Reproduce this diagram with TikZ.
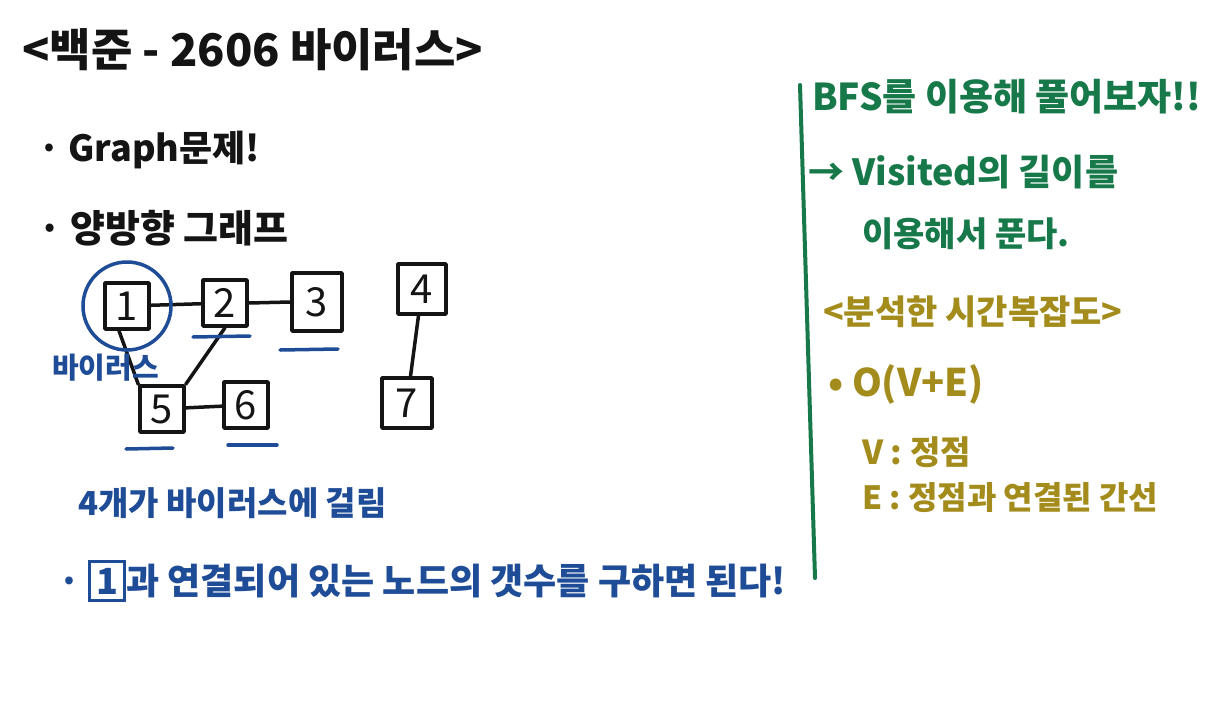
\documentclass[tikz,border=0pt]{standalone}
\usepackage{fontspec}
\setmainfont{Noto Sans CJK KR}
\usetikzlibrary{positioning}
\definecolor{inkblack}{HTML}{141414}
\definecolor{inkblue}{HTML}{1E4C96}
\definecolor{inkgreen}{HTML}{17794A}
\definecolor{inkolive}{HTML}{A38C1C}
\tikzset{
    every node/.style={inner sep=0pt},
    note/.style={anchor=west, font=\fontsize{#1}{#1}\selectfont\bfseries},
    note/.default=32,
    vbox/.style={draw=inkblack, line width=3.5pt, line join=round, minimum width=44pt, minimum height=46pt, font=\fontsize{40}{40}\selectfont, text=inkblack},
    link/.style={draw=inkblack, line width=3.5pt, line cap=round},
    infmark/.style={draw=inkblue, line width=3.5pt, line cap=round}
}
\begin{document}
\begin{tikzpicture}[x=1pt, y=-1pt]
    \useasboundingbox[fill=white] (0,0) rectangle (1229,712);

    % Left column: problem notes
    \node[note=45, text=inkblack] (title) at (22,50) {<백준 - 2606 바이러스>};
    \node[note=36, text=inkblack] (graphq) at (38,150) {· Graph문제!};
    \node[note=38, text=inkblack] (bidir) at (38,228) {· 양방향 그래프};

    % Vertices
    \node[vbox] (n1) at (127,306) {1};
    \node[vbox] (n2) at (225,303) {2};
    \node[vbox, minimum width=50pt, minimum height=58pt] (n3) at (317,302) {3};
    \node[vbox, minimum width=48pt, minimum height=50pt] (n4) at (422,289) {4};
    \node[vbox] (n5) at (162,409) {5};
    \node[vbox] (n6) at (246,405) {6};
    \node[vbox, minimum width=50pt, minimum height=50pt] (n7) at (407,403) {7};

    % Edges
    \draw[link] (n1) -- (n2);
    \draw[link] (n2.east) -- (n3.west);
    \draw[link] (n1.south) ++(-8,0) coordinate (c1) (c1) -- (n5.north west);
    \draw[link] (n2.south) -- (n5.north east);
    \draw[link] (n5) -- (n6);
    \draw[link] (n4) -- (n7);

    % Infected marks
    \draw[infmark] (n1) circle[radius=44];
    \node[note=29, text=inkblue] (virus) at (52,368) {바이러스};
    \draw[infmark] (193,337) -- (250,336);
    \draw[infmark] (280,350) -- (338,349);
    \draw[infmark] (126,449) -- (173,448);
    \draw[infmark] (228,445) -- (277,445);

    \node[note=33, text=inkblue] (count) at (78,503) {4개가 바이러스에 걸림};
    \node[note=36, text=inkblue] (answer) at (58,581) {· {\fboxsep=5pt\fboxrule=3pt\fbox{1}}과 연결되어 있는 노드의 갯수를 구하면 된다!};

    % Divider
    \draw[draw=inkgreen, line width=4pt, line cap=round] (800,85) -- (815,578);

    % Right column: solution
    \node[note=37, text=inkgreen] (bfs) at (812,97) {BFS를 이용해 풀어보자!!};
    \node[note=36, text=inkgreen] (visited) at (808,172) {→ Visited의 길이를};
    \node[note=34, text=inkgreen] (solve) at (862,234) {이용해서 푼다.};

    \node[note=34, text=inkolive] (cplx) at (823,312) {<분석한 시간복잡도>};
    \node[note=38, text=inkolive] (onot) at (828,384) {• O(V+E)};
    \node[note=33, text=inkolive] (vdef) at (862,452) {V : 정점};
    \node[note=32, text=inkolive] (edef) at (862,498) {E : 정점과 연결된 간선};
\end{tikzpicture}
\end{document}
